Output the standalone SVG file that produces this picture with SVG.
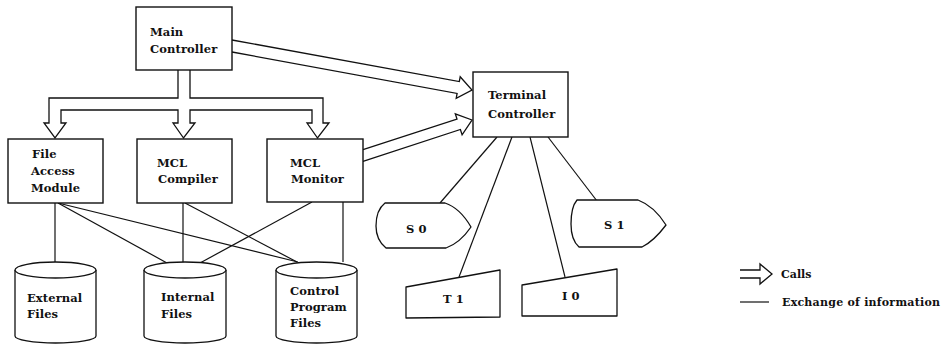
<svg xmlns="http://www.w3.org/2000/svg" width="947" height="347" viewBox="0 0 947 347">
  <style>
    .box { fill: #fff; stroke: #111; stroke-width: 1.4; }
    .shape { fill: #fff; stroke: #111; stroke-width: 1.3; stroke-linejoin: round; }
    .call { fill: #fff; stroke: #111; stroke-width: 1.3; stroke-linejoin: miter; }
    .info { fill: none; stroke: #111; stroke-width: 1.2; }
    text { font-family: "DejaVu Serif", "Liberation Serif", serif; font-weight: bold; font-size: 11.5px; fill: #111; letter-spacing: 0.1px; }
    .lg { font-size: 11px; letter-spacing: 0; }
  </style>

  <rect width="947" height="347" fill="#fff"/>

  <!-- exchange of information -->
  <g id="connectors">
    <line class="info" x1="55" y1="203" x2="55" y2="263"/>
    <line class="info" x1="58" y1="203" x2="167" y2="263"/>
    <line class="info" x1="58" y1="203" x2="298" y2="262"/>
    <line class="info" x1="183" y1="203" x2="183" y2="263"/>
    <line class="info" x1="185" y1="203" x2="297" y2="262"/>
    <line class="info" x1="343" y1="202" x2="343" y2="262"/>
    <line class="info" x1="312" y1="202" x2="200" y2="263"/>
    <line class="info" x1="497" y1="137" x2="440" y2="203"/>
    <line class="info" x1="512" y1="137" x2="459" y2="277"/>
    <line class="info" x1="530" y1="137" x2="565" y2="277"/>
    <line class="info" x1="548" y1="137" x2="597" y2="201"/>

    <!-- calls: Main Controller fans out to the three modules -->
    <path class="call" d="M178,70 L178,98 L49,98 L49,123 L44,123 L55,138 L66,123 L61,123 L61,110 L178,110 L178,123 L173,123 L183.5,138 L195,123 L190,123 L190,110 L312,110 L312,123 L307,123 L317.5,138 L329,123 L323,123 L323,98 L190,98 L190,70"/>
    <!-- calls: Main Controller to Terminal Controller -->
    <path class="call" d="M232,40 L459.3,81.6 L460.2,76.7 L472,90 L456.2,98.3 L457.1,93.4 L232,52"/>
    <!-- calls: MCL Monitor to Terminal Controller -->
    <path class="call" d="M363,149.7 L457,119.1 L455.3,113.8 L472,120 L462.1,134.8 L460.4,129.5 L363,161.3"/>
  </g>

  <g id="main-controller">
    <rect class="box" x="136" y="7" width="96" height="63"/>
    <text x="150" y="36">Main</text>
    <text x="150" y="53">Controller</text>
  </g>

  <g id="file-access-module">
    <rect class="box" x="8" y="139" width="95" height="64"/>
    <text x="32" y="158">File</text>
    <text x="31" y="175">Access</text>
    <text x="31" y="192">Module</text>
  </g>

  <g id="mcl-compiler">
    <rect class="box" x="137" y="139" width="95" height="64"/>
    <text x="157" y="167">MCL</text>
    <text x="158" y="183">Compiler</text>
  </g>

  <g id="mcl-monitor">
    <rect class="box" x="267" y="139" width="96" height="63"/>
    <text x="290" y="167">MCL</text>
    <text x="291" y="183">Monitor</text>
  </g>

  <g id="terminal-controller">
    <rect class="box" x="473" y="72" width="95" height="65"/>
    <text x="488" y="99">Terminal</text>
    <text x="488" y="118">Controller</text>
  </g>

  <g id="external-files">
    <path class="shape" d="M15,270 L15,336 A40.5,7 0 0 0 96,336 L96,270"/>
    <ellipse class="shape" cx="55.5" cy="270" rx="40.5" ry="8"/>
    <text x="27" y="302">External</text>
    <text x="27" y="318">Files</text>
  </g>

  <g id="internal-files">
    <path class="shape" d="M144,270 L144,336 A41,7 0 0 0 226,336 L226,270"/>
    <ellipse class="shape" cx="185" cy="270" rx="41" ry="8"/>
    <text x="161" y="301">Internal</text>
    <text x="161" y="318">Files</text>
  </g>

  <g id="control-program-files">
    <path class="shape" d="M276,270 L276,336 A40.5,7 0 0 0 357,336 L357,270"/>
    <ellipse class="shape" cx="316.5" cy="270" rx="40.5" ry="8"/>
    <text x="290" y="295">Control</text>
    <text x="290" y="311">Program</text>
    <text x="290" y="327">Files</text>
  </g>

  <g id="s0">
    <path class="shape" d="M385,203 L445,203 Q460,208 471,227 Q460,243 446,248 L386,248 Q376,240 376,226 Q376,210 385,203 Z"/>
    <text x="406" y="233">S 0</text>
  </g>

  <g id="s1">
    <path class="shape" d="M577,200 L638,200 Q654,206 666,225 Q654,241 642,247 L579,247 Q571,240 571,224 Q571,207 577,200 Z"/>
    <text x="604" y="229">S 1</text>
  </g>

  <g id="t1">
    <path class="shape" d="M406,287 L500,270 L500,317 L406,318 Z"/>
    <text x="443" y="303">T 1</text>
  </g>

  <g id="i0">
    <path class="shape" d="M522,285 L617,269 L617,316 L522,316 Z"/>
    <text x="562" y="300">I 0</text>
  </g>

  <g id="legend">
    <path class="call" d="M740,270 L760,270 L760,264 L772,274 L760,284 L760,278 L740,278"/>
    <text class="lg" x="781" y="278">Calls</text>
    <line class="info" x1="740" y1="302" x2="769" y2="302"/>
    <text class="lg" x="782" y="306" textLength="158" lengthAdjust="spacing">Exchange of information</text>
  </g>
</svg>
